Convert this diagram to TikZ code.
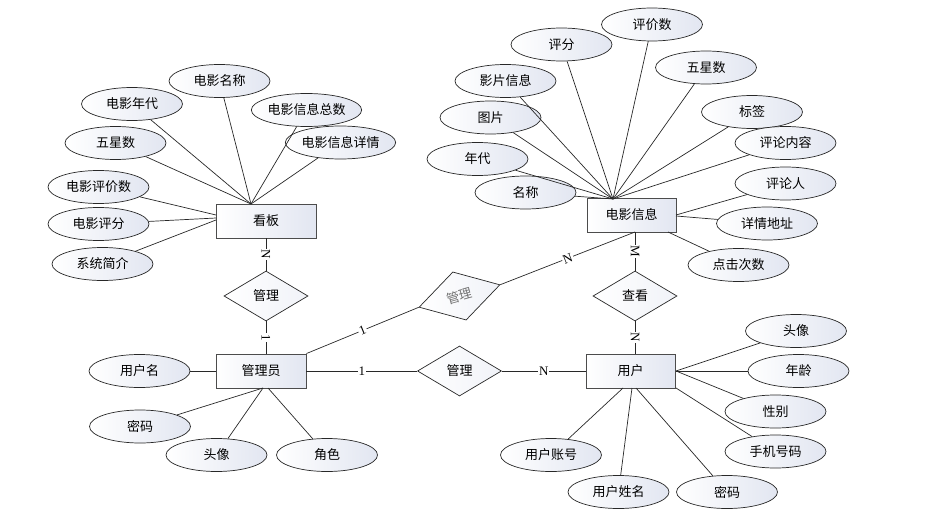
\documentclass[tikz,border=0pt]{standalone}
\usepackage{fontspec}
\setmainfont{Liberation Serif}
\newfontfamily\cjk{Noto Sans CJK SC}
\usetikzlibrary{shapes.geometric}
\definecolor{attrfill}{RGB}{226,230,241}
\definecolor{linecol}{RGB}{40,40,40}
\begin{document}
\begin{tikzpicture}[x=1pt,y=-1pt,
  attr/.style={ellipse, draw=linecol, line width=0.7pt, minimum width=101pt, minimum height=33pt,
    inner sep=0pt, left color=white, right color=attrfill, font=\cjk\fontsize{13}{15}\selectfont},
  ent/.style={rectangle, draw=black!70, line width=0.9pt, minimum height=34pt, inner sep=0pt,
    left color=white, right color=attrfill, font=\cjk\fontsize{13}{15}\selectfont},
  rel/.style={diamond, draw=linecol, line width=0.7pt, minimum width=84pt, minimum height=50pt,
    inner sep=0pt, aspect=1.68, left color=white, right color=attrfill!50, font=\cjk\fontsize{13}{15}\selectfont},
  conn/.style={draw=linecol, line width=0.7pt},
  card/.style={fill=white, inner sep=1pt, font=\fontsize{13}{15}\selectfont}
]
\useasboundingbox (0,0) rectangle (935,519);

% entities
\node[ent, minimum width=100pt] (kb) at (266,221) {看板};
\node[ent, minimum width=89pt] (dy) at (631.5,215) {电影信息};
\node[ent, minimum width=90pt] (gly) at (261,371) {管理员};
\node[ent, minimum width=89pt] (yh) at (630.5,371) {用户};

% relations
\node[rel] (r1) at (266,296) {管理};
\node[rel, rotate=15.5, text=black!55] (r2) at (459.5,296) {管理};
\node[rel] (r3) at (459.5,371) {管理};
\node[rel] (r4) at (635,296) {查看};

% hub coordinates
\coordinate (kbtop) at (251,204);
\coordinate (kbl1) at (216,215);
\coordinate (kbl2) at (216,218);
\coordinate (kbl3) at (216,220);
\coordinate (kbb) at (266,238);
\coordinate (glyt) at (266,354);
\coordinate (dytop) at (613,199);
\coordinate (dyr1) at (676,215);
\coordinate (dyr2) at (676,216);
\coordinate (dybr) at (668,232);
\coordinate (dyb) at (635,232);
\coordinate (yht) at (635,354);
\coordinate (yhr1) at (676,371);
\coordinate (yhr2) at (676,388);
\coordinate (yhb1) at (623,388);
\coordinate (yhb2) at (632,388);
\coordinate (yhb3) at (636,388);
\coordinate (glyb1) at (263,388);
\coordinate (glyb2) at (268,388);

% attributes of 看板
\node[attr] (a1) at (219.5,81) {电影名称};
\node[attr] (a2) at (132,104) {电影年代};
\node[attr] (a3) at (306.5,110) {电影信息总数};
\node[attr] (a4) at (340.5,142.5) {电影信息详情};
\node[attr] (a5) at (115.5,143) {五星数};
\node[attr] (a6) at (98.5,187) {电影评价数};
\node[attr] (a7) at (98.5,224) {电影评分};
\node[attr] (a8) at (102.5,264) {系统简介};

% attributes of 电影信息
\node[attr] (b1) at (652,24.5) {评价数};
\node[attr] (b2) at (561.5,44.5) {评分};
\node[attr] (b3) at (706,67.5) {五星数};
\node[attr] (b4) at (505.5,81) {影片信息};
\node[attr] (b5) at (752,112) {标签};
\node[attr] (b6) at (490.5,117.5) {图片};
\node[attr] (b7) at (785.5,143) {评论内容};
\node[attr] (b8) at (477.5,159) {年代};
\node[attr] (b9) at (525.5,192.5) {名称};
\node[attr] (b10) at (785.5,183.5) {评论人};
\node[attr] (b11) at (767,223.5) {详情地址};
\node[attr] (b12) at (738.5,265) {点击次数};

% attributes of 用户
\node[attr] (c1) at (796,331) {头像};
\node[attr] (c2) at (798.5,371) {年龄};
\node[attr] (c3) at (775.5,411.5) {性别};
\node[attr] (c4) at (775.5,451.5) {手机号码};
\node[attr] (c5) at (551,455) {用户账号};
\node[attr] (c6) at (618.5,492) {用户姓名};
\node[attr] (c7) at (727,492) {密码};

% attributes of 管理员
\node[attr] (d1) at (139.5,371) {用户名};
\node[attr] (d2) at (140,426.5) {密码};
\node[attr] (d3) at (216.5,455) {头像};
\node[attr] (d4) at (327,455) {角色};

% attribute connectors
\foreach \a in {a1,a2,a3,a4,a5} \draw[conn] (\a) -- (kbtop);
\draw[conn] (a6) -- (kbl1);
\draw[conn] (a7) -- (kbl2);
\draw[conn] (a8) -- (kbl3);
\foreach \b in {b1,b2,b3,b4,b5,b6,b7,b8,b9} \draw[conn] (\b) -- (dytop);
\draw[conn] (b10) -- (dyr1);
\draw[conn] (b11) -- (dyr2);
\draw[conn] (b12) -- (dybr);
\draw[conn] (c1) -- (yhr1);
\draw[conn] (c2) -- (yhr1);
\draw[conn] (c3) -- (yhr1);
\draw[conn] (c4) -- (yhr2);
\draw[conn] (c5) -- (yhb1);
\draw[conn] (c6) -- (yhb2);
\draw[conn] (c7) -- (yhb3);
\draw[conn] (d1) -- (gly.west);
\draw[conn] (d2) -- (glyb1);
\draw[conn] (d3) -- (glyb1);
\draw[conn] (d4) -- (glyb2);

% relationship connectors
\draw[conn] (kbb) -- node[card, sloped] {N} (r1.north);
\draw[conn] (r1.south) -- node[card, sloped] {1} (glyt);
\draw[conn] (gly.north east) -- node[card, sloped] {1} (r2.west);
\draw[conn] (r2.east) -- node[card, sloped] {N} (dyb);
\draw[conn] (gly.east) -- node[card] {1} (r3.west);
\draw[conn] (r3.east) -- node[card] {N} (yh.west);
\draw[conn] (dyb) -- node[card, sloped] {M} (r4.north);
\draw[conn] (r4.south) -- node[card, sloped] {N} (yht);
\end{tikzpicture}
\end{document}
